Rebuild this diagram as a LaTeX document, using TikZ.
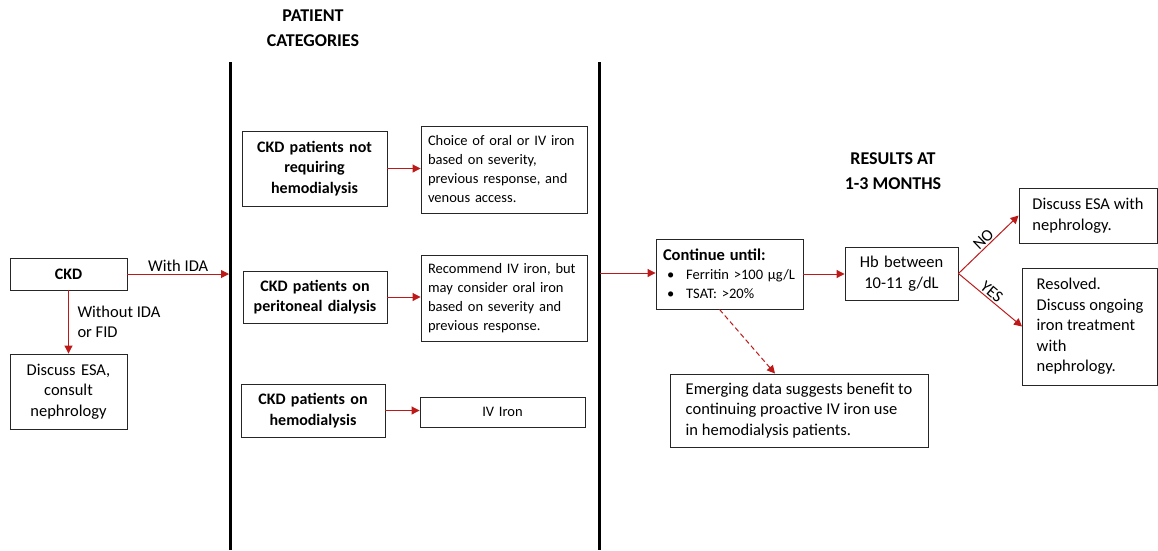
\documentclass[tikz,border=0pt]{standalone}
\usepackage{fontspec}
\setmainfont{Carlito}
\usepackage{tikz}
\usetikzlibrary{arrows.meta,positioning,calc}
\definecolor{flowred}{RGB}{190,25,25}

\begin{document}
\begin{tikzpicture}[
  x=1pt, y=-1pt,
  box/.style={draw=black!85, line width=0.9pt, align=center, inner sep=4pt,
    font=\fontsize{16.5}{20.5}\selectfont},
  cat/.style={box, font=\fontsize{16}{20.5}\selectfont\bfseries},
  opt/.style={box, align=left, inner xsep=7pt, font=\fontsize{14.5}{19}\selectfont},
  wide/.style={box, align=left},
  head/.style={align=center, font=\fontsize{18}{25}\selectfont\bfseries},
  flow/.style={-{Triangle[length=8pt,width=8pt]}, flowred, line width=1pt},
  lbl/.style={text=black, font=\fontsize{16.5}{20.5}\selectfont, inner sep=1.5pt}
]
\useasboundingbox (0,0) rectangle (1158,550);
% section dividers
\draw[line width=3pt] (230,62) -- (230,550);
\draw[line width=3pt] (599,62) -- (599,550);
\coordinate (l1) at (229,274);
\coordinate (l2) at (600,273);
\node[head] (cathead) at (313,28) {PATIENT\\CATEGORIES};
\node[head] (reshead) at (893,171) {RESULTS AT\\1-3 MONTHS};
% start
\node[cat, text width=109pt, minimum height=32pt] (ckd) at (68.5,274) {CKD};
\node[box, text width=109pt, minimum height=75pt] (esa) at (68.5,391.5) {Discuss ESA,\\consult\\nephrology};
% patient categories
\node[cat, text width=137pt, minimum height=75pt] (cat1) at (314.5,168.5) {CKD patients not\\requiring\\hemodialysis};
\node[cat, text width=136pt, minimum height=52pt] (cat2) at (315,297) {CKD patients on\\peritoneal dialysis};
\node[cat, text width=136pt, minimum height=53pt] (cat3) at (313,410.5) {CKD patients on\\hemodialysis};
\node[opt, text width=152pt, minimum height=87pt] (opt1) at (504,169.5) {Choice of oral or IV iron\\based on severity,\\previous response, and\\venous access.};
\node[opt, text width=152pt, minimum height=86pt] (opt2) at (504,298) {Recommend IV iron, but\\may consider oral iron\\based on severity and\\previous response.};
\node[opt, align=center, text width=151pt, minimum height=30pt] (opt3) at (502.5,412) {IV Iron};
% results
\node[opt, text width=133pt, minimum height=70pt] (cont) at (729.5,274) {{\fontsize{16.5}{19}\selectfont\bfseries Continue until:}\\
  \hspace*{4pt}\textbullet\hspace{12pt}Ferritin >100 µg/L\\
  \hspace*{4pt}\textbullet\hspace{12pt}TSAT: >20\%};
\node[box, text width=105pt, minimum height=53pt] (hb) at (901.5,273.5) {Hb between\\10-11 g/dL};
\node[wide, minimum width=138pt, minimum height=55pt] (esa2) at (1088,215.5) {Discuss ESA with\\nephrology.};
\node[wide, minimum width=135pt, minimum height=117pt] (done) at (1090,326.5) {Resolved.\\Discuss ongoing\\iron treatment\\with\\nephrology.};
\node[wide, minimum width=258pt, minimum height=73pt] (emerg) at (799,410.5) {Emerging data suggests benefit to\\continuing proactive IV iron use\\in hemodialysis patients.};
% connectors
\draw[flow] (ckd.east) -- node[lbl, above] {With IDA} (ckd.east -| l1);
\draw[flow] (ckd.south) -- node[lbl, right, align=left, xshift=7pt] {Without IDA\\or FID} (esa.north);
\draw[flow] (cat1.east) -- (cat1.east -| opt1.west);
\draw[flow] (cat2.east) -- (cat2.east -| opt2.west);
\draw[flow] (cat3.east) -- (cat3.east -| opt3.west);
\draw[flow] (l2) -- (l2 -| cont.west);
\draw[flow] (cont.east) -- (cont.east -| hb.west);
\draw[flow, dash pattern=on 5pt off 3pt] ([xshift=-10pt]cont.south) -- ([xshift=-24pt]emerg.north);
\draw[flow] (hb.east) -- node[lbl, above, sloped] {NO} (esa2.west);
\draw[flow] (hb.east) -- node[lbl, above, sloped, pos=0.45] {YES} (done.west);
\end{tikzpicture}
\end{document}
